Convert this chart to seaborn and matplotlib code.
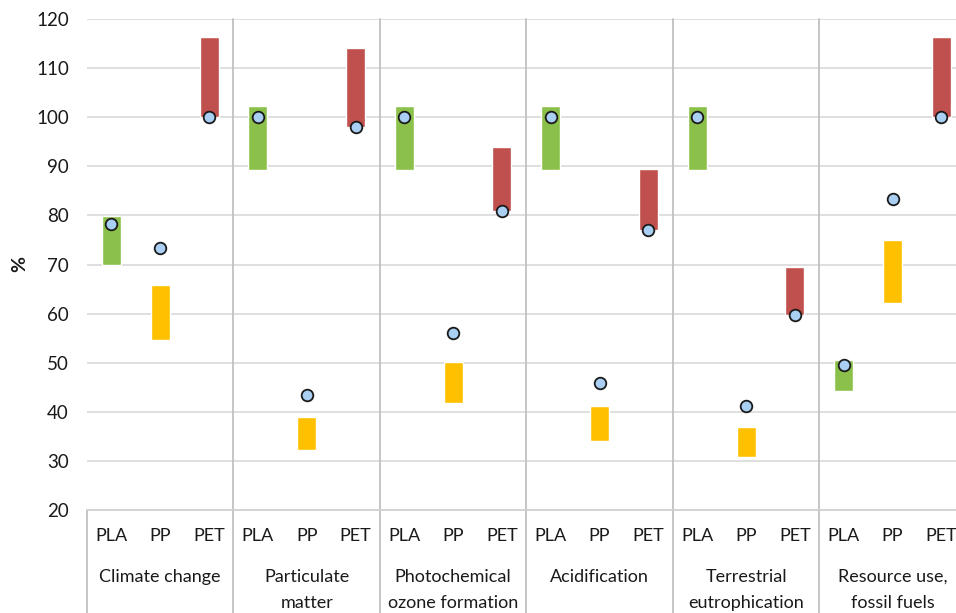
import matplotlib
matplotlib.use("Agg")
import matplotlib.pyplot as plt
import matplotlib.transforms as mtransforms
import seaborn as sns
import pandas as pd

# impact categories and materials
categories = ["Climate change", "Particulate\nmatter", "Photochemical\nozone formation",
              "Acidification", "Terrestrial\neutrophication", "Resource use,\nfossil fuels"]
materials = ["PLA", "PP", "PET"]

# floating bars (low / high) per category, order PLA, PP, PET
bar_low = [[69.8, 54.6, 100.0],
           [89.2, 32.3, 98.1],
           [89.2, 41.7, 80.8],
           [89.2, 34.1, 77.1],
           [89.2, 30.7, 59.8],
           [44.3, 62.2, 100.0]]
bar_high = [[79.8, 65.9, 116.3],
            [102.2, 38.9, 114.0],
            [102.2, 50.1, 93.9],
            [102.2, 41.2, 89.4],
            [102.2, 37.0, 69.4],
            [50.6, 74.9, 116.3]]
# point values
points = [[78.3, 73.4, 100.0],
          [100.0, 43.4, 98.1],
          [100.0, 56.0, 80.8],
          [100.0, 45.9, 77.0],
          [100.0, 41.2, 59.7],
          [49.5, 83.3, 100.0]]

colors = {"PLA": "#8BC14A", "PP": "#FFC000", "PET": "#C0504D"}

rows = []
for g, cat in enumerate(categories):
    for i, m in enumerate(materials):
        rows.append({"pos": 3 * g + i, "category": cat, "material": m,
                     "low": bar_low[g][i], "high": bar_high[g][i], "point": points[g][i]})
df = pd.DataFrame(rows)

sns.set_style("white")
plt.rcParams["font.family"] = ["Lato", "DejaVu Sans"]
text_color = "#1a1a1a"

fig = plt.figure(figsize=(9.56, 6.13), dpi=100)
ax = fig.add_axes([87 / 956, 1 - 510 / 613, 1 - 87 / 956, (510 - 19) / 613])

ax.bar(df["pos"], df["high"] - df["low"], bottom=df["low"], width=0.39,
       color=[colors[m] for m in df["material"]], zorder=2)
sns.scatterplot(data=df, x="pos", y="point", ax=ax, s=70, color="#A9CFF2",
                edgecolor="#1a1a1a", linewidth=1.3, zorder=3, legend=False)

ax.set_ylim(20, 120)
ax.set_xlim(-0.5, 17.3)
ax.set_yticks(range(20, 121, 10))
ax.yaxis.grid(True, color="#d9d9d9", linewidth=1.2)
ax.set_axisbelow(True)
for s in ["top", "right", "left"]:
    ax.spines[s].set_visible(False)
ax.spines["bottom"].set_color("#d0d0d0")
ax.spines["bottom"].set_linewidth(1.2)

ax.set_xticks(df["pos"])
ax.set_xticklabels(df["material"])
ax.tick_params(axis="x", length=0, pad=13, labelsize=13, labelcolor=text_color)
ax.tick_params(axis="y", length=0, pad=13, labelsize=13.5, labelcolor=text_color)
ax.set_xlabel("")
ax.set_ylabel("%", fontsize=14, fontweight="bold", color=text_color)
ax.yaxis.set_label_coords(-0.068, 0.5)

# group separators, running through the plot and down through the label area
trans = mtransforms.blended_transform_factory(ax.transData, ax.transAxes)
for g in range(len(categories)):
    x0 = 3 * g - 0.5
    top = 1.0 if g > 0 else 0.0
    ax.plot([x0, x0], [-0.21, top], transform=trans, color="#c0c0c0",
            linewidth=1.3, clip_on=False, zorder=1)
    ax.text(3 * g + 1, -0.12, categories[g], transform=trans, ha="center", va="top",
            fontsize=13, color=text_color, linespacing=1.75)

fig.savefig("out.png", dpi=100)
